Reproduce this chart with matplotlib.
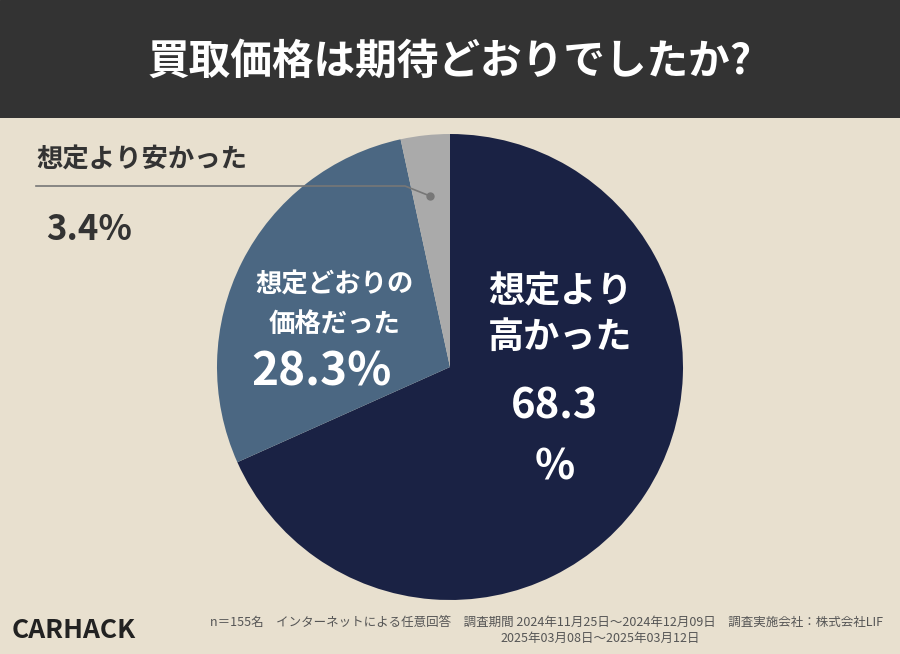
import matplotlib
matplotlib.use("Agg")
import matplotlib.pyplot as plt

plt.rcParams["font.family"] = "Noto Sans CJK JP"

labels = ["想定より\n高かった", "想定どおりの\n価格だった", "想定より安かった"]
values = [68.3, 28.3, 3.4]
pct_labels = ["68.3\n%", "28.3%", "3.4%"]
colors = ["#1a2244", "#4b6782", "#aaaaaa"]

W, H = 900, 654
fig = plt.figure(figsize=(W/100, H/100), dpi=100)
fig.patch.set_facecolor("#e8e0cf")

hdr = fig.add_axes([0, 1-118/H, 1, 118/H])
hdr.set_axis_off()
hdr.add_patch(plt.Rectangle((0, 0), 1, 1, color="#333333", transform=hdr.transAxes))
fig.text(0.5, 1-62/H, "買取価格は期待どおりでしたか?", color="white",
         fontsize=30, fontweight="bold", ha="center", va="center")

r = 233
ax = fig.add_axes([(450-r)/W, 1-(367+r)/H, 2*r/W, 2*r/H])
ax.pie(values, colors=colors, startangle=90, counterclock=False,
       wedgeprops=dict(linewidth=0), radius=1)
ax.set_xlim(-1, 1); ax.set_ylim(-1, 1)
ax.set_aspect("equal")

def px(x, y):
    return x/W, 1-y/H

fig.text(*px(560, 315), labels[0], color="white", fontsize=26, fontweight="bold",
         ha="center", va="center", linespacing=1.3)
fig.text(*px(555, 437), pct_labels[0], color="white", fontsize=30, fontweight="bold",
         ha="center", va="center", linespacing=1.55)
fig.text(*px(335, 305), labels[1], color="white", fontsize=19, fontweight="bold",
         ha="center", va="center", linespacing=1.6)
fig.text(*px(322, 372), pct_labels[1], color="white", fontsize=33, fontweight="bold",
         ha="center", va="center")
fig.text(*px(36, 160), labels[2], color="#333333", fontsize=19, fontweight="bold",
         ha="left", va="center")
fig.text(*px(46, 230), pct_labels[2], color="#333333", fontsize=25, fontweight="bold",
         ha="left", va="center")

lx = [px(36, 186)[0], px(405, 186)[0], px(430, 196)[0]]
ly = [px(36, 186)[1], px(405, 186)[1], px(430, 196)[1]]
fig.add_artist(plt.Line2D(lx, ly, color="#777777", lw=1.2))
fig.add_artist(plt.Line2D([lx[2]], [ly[2]], marker="o", color="#777777", ms=5))

fig.text(*px(12, 630), "CARHACK", fontsize=19, fontweight="bold",
         color="#222222", ha="left", va="center")
fig.text(*px(883, 622), "n＝155名　インターネットによる任意回答　調査期間 2024年11月25日～2024年12月09日　調査実施会社：株式会社LIF",
         fontsize=9, color="#555555", ha="right", va="center")
fig.text(*px(700, 638), "2025年03月08日～2025年03月12日",
         fontsize=9, color="#555555", ha="right", va="center")

fig.savefig("out.png", dpi=100, facecolor=fig.get_facecolor())
